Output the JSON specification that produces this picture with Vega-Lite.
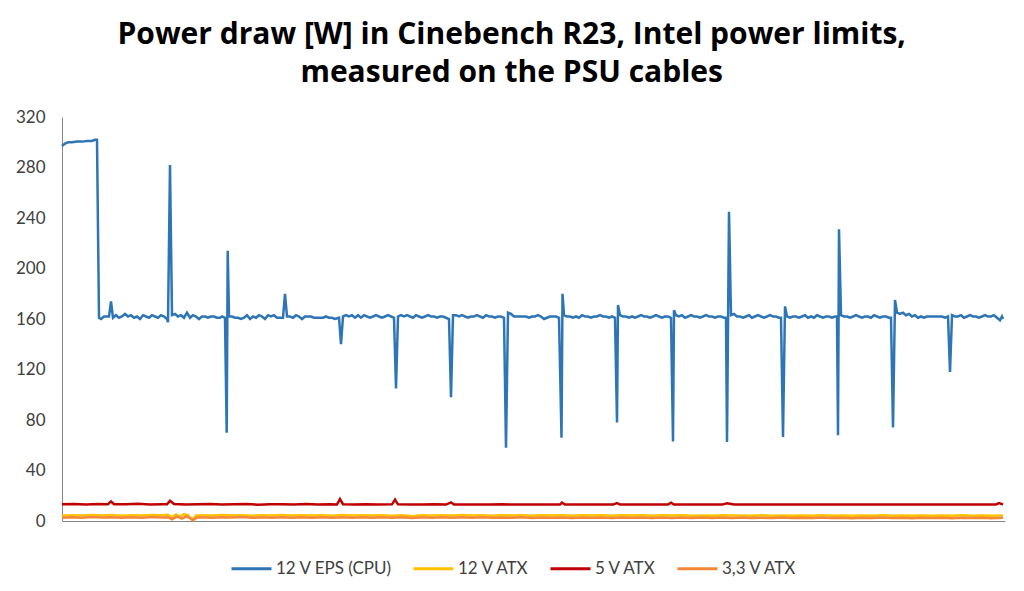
{
  "$schema": "https://vega.github.io/schema/vega-lite/v6.json",
  "width": 943,
  "height": 404,
  "padding": {"left": 15, "top": 20, "right": 19, "bottom": 10},
  "background": "white",
  "title": {
    "text": ["Power draw [W] in Cinebench R23, Intel power limits,", "measured on the PSU cables"],
    "font": "Open Sans",
    "fontSize": 30,
    "fontWeight": "bold",
    "color": "#000000",
    "lineHeight": 38,
    "anchor": "middle",
    "frame": "bounds",
    "offset": 20
  },
  "config": {
    "view": {"stroke": null},
    "axis": {"grid": false, "domainColor": "#868686", "domainWidth": 1, "labelFont": "Lato", "labelFontSize": 17, "labelColor": "#404040", "ticks": false},
    "legend": {"labelFont": "Lato", "labelFontSize": 17, "labelColor": "#404040"}
  },
  "data": {
    "values": [
      {"series": "12 V EPS (CPU)", "t": 0, "W": 297},
      {"series": "12 V EPS (CPU)", "t": 3, "W": 299},
      {"series": "12 V EPS (CPU)", "t": 6, "W": 300},
      {"series": "12 V EPS (CPU)", "t": 10, "W": 300},
      {"series": "12 V EPS (CPU)", "t": 15, "W": 300.5},
      {"series": "12 V EPS (CPU)", "t": 20, "W": 300.5},
      {"series": "12 V EPS (CPU)", "t": 25, "W": 301},
      {"series": "12 V EPS (CPU)", "t": 30, "W": 301},
      {"series": "12 V EPS (CPU)", "t": 33, "W": 302},
      {"series": "12 V EPS (CPU)", "t": 35, "W": 302},
      {"series": "12 V EPS (CPU)", "t": 37, "W": 161},
      {"series": "12 V EPS (CPU)", "t": 39, "W": 160},
      {"series": "12 V EPS (CPU)", "t": 42, "W": 162},
      {"series": "12 V EPS (CPU)", "t": 45, "W": 162},
      {"series": "12 V EPS (CPU)", "t": 47, "W": 162},
      {"series": "12 V EPS (CPU)", "t": 49, "W": 174},
      {"series": "12 V EPS (CPU)", "t": 51, "W": 161},
      {"series": "12 V EPS (CPU)", "t": 54, "W": 163},
      {"series": "12 V EPS (CPU)", "t": 57, "W": 161},
      {"series": "12 V EPS (CPU)", "t": 60, "W": 162},
      {"series": "12 V EPS (CPU)", "t": 63, "W": 164},
      {"series": "12 V EPS (CPU)", "t": 66, "W": 162},
      {"series": "12 V EPS (CPU)", "t": 69, "W": 163},
      {"series": "12 V EPS (CPU)", "t": 72, "W": 161},
      {"series": "12 V EPS (CPU)", "t": 75, "W": 162},
      {"series": "12 V EPS (CPU)", "t": 78, "W": 160},
      {"series": "12 V EPS (CPU)", "t": 81, "W": 163},
      {"series": "12 V EPS (CPU)", "t": 84, "W": 162},
      {"series": "12 V EPS (CPU)", "t": 87, "W": 161},
      {"series": "12 V EPS (CPU)", "t": 90, "W": 163},
      {"series": "12 V EPS (CPU)", "t": 93, "W": 162},
      {"series": "12 V EPS (CPU)", "t": 96, "W": 161},
      {"series": "12 V EPS (CPU)", "t": 99, "W": 163},
      {"series": "12 V EPS (CPU)", "t": 102, "W": 162},
      {"series": "12 V EPS (CPU)", "t": 105, "W": 160},
      {"series": "12 V EPS (CPU)", "t": 106, "W": 157.5},
      {"series": "12 V EPS (CPU)", "t": 108, "W": 282},
      {"series": "12 V EPS (CPU)", "t": 110, "W": 163},
      {"series": "12 V EPS (CPU)", "t": 113, "W": 164},
      {"series": "12 V EPS (CPU)", "t": 116, "W": 162},
      {"series": "12 V EPS (CPU)", "t": 119, "W": 163},
      {"series": "12 V EPS (CPU)", "t": 122, "W": 161},
      {"series": "12 V EPS (CPU)", "t": 125, "W": 165},
      {"series": "12 V EPS (CPU)", "t": 128, "W": 161},
      {"series": "12 V EPS (CPU)", "t": 131, "W": 163},
      {"series": "12 V EPS (CPU)", "t": 134, "W": 162},
      {"series": "12 V EPS (CPU)", "t": 137, "W": 160},
      {"series": "12 V EPS (CPU)", "t": 140, "W": 162},
      {"series": "12 V EPS (CPU)", "t": 143, "W": 162},
      {"series": "12 V EPS (CPU)", "t": 146, "W": 161},
      {"series": "12 V EPS (CPU)", "t": 149, "W": 162},
      {"series": "12 V EPS (CPU)", "t": 152, "W": 162},
      {"series": "12 V EPS (CPU)", "t": 155, "W": 161},
      {"series": "12 V EPS (CPU)", "t": 158, "W": 161},
      {"series": "12 V EPS (CPU)", "t": 160, "W": 162},
      {"series": "12 V EPS (CPU)", "t": 163, "W": 161},
      {"series": "12 V EPS (CPU)", "t": 164.7, "W": 70},
      {"series": "12 V EPS (CPU)", "t": 165.7, "W": 214},
      {"series": "12 V EPS (CPU)", "t": 167, "W": 162},
      {"series": "12 V EPS (CPU)", "t": 170, "W": 162},
      {"series": "12 V EPS (CPU)", "t": 173, "W": 161},
      {"series": "12 V EPS (CPU)", "t": 176, "W": 161},
      {"series": "12 V EPS (CPU)", "t": 179, "W": 160},
      {"series": "12 V EPS (CPU)", "t": 182, "W": 161},
      {"series": "12 V EPS (CPU)", "t": 185, "W": 163},
      {"series": "12 V EPS (CPU)", "t": 188, "W": 160},
      {"series": "12 V EPS (CPU)", "t": 191, "W": 162},
      {"series": "12 V EPS (CPU)", "t": 194, "W": 161},
      {"series": "12 V EPS (CPU)", "t": 197, "W": 163},
      {"series": "12 V EPS (CPU)", "t": 200, "W": 162},
      {"series": "12 V EPS (CPU)", "t": 203, "W": 160},
      {"series": "12 V EPS (CPU)", "t": 206, "W": 163},
      {"series": "12 V EPS (CPU)", "t": 209, "W": 162},
      {"series": "12 V EPS (CPU)", "t": 212, "W": 163},
      {"series": "12 V EPS (CPU)", "t": 215, "W": 161},
      {"series": "12 V EPS (CPU)", "t": 218, "W": 161},
      {"series": "12 V EPS (CPU)", "t": 221, "W": 161},
      {"series": "12 V EPS (CPU)", "t": 223, "W": 180},
      {"series": "12 V EPS (CPU)", "t": 225, "W": 162},
      {"series": "12 V EPS (CPU)", "t": 228, "W": 162},
      {"series": "12 V EPS (CPU)", "t": 231, "W": 161},
      {"series": "12 V EPS (CPU)", "t": 234, "W": 163},
      {"series": "12 V EPS (CPU)", "t": 237, "W": 162},
      {"series": "12 V EPS (CPU)", "t": 240, "W": 160},
      {"series": "12 V EPS (CPU)", "t": 243, "W": 162},
      {"series": "12 V EPS (CPU)", "t": 246, "W": 162},
      {"series": "12 V EPS (CPU)", "t": 249, "W": 162},
      {"series": "12 V EPS (CPU)", "t": 252, "W": 161},
      {"series": "12 V EPS (CPU)", "t": 255, "W": 161},
      {"series": "12 V EPS (CPU)", "t": 258, "W": 161},
      {"series": "12 V EPS (CPU)", "t": 261, "W": 161},
      {"series": "12 V EPS (CPU)", "t": 264, "W": 162},
      {"series": "12 V EPS (CPU)", "t": 267, "W": 161},
      {"series": "12 V EPS (CPU)", "t": 270, "W": 161},
      {"series": "12 V EPS (CPU)", "t": 273, "W": 160},
      {"series": "12 V EPS (CPU)", "t": 277, "W": 161},
      {"series": "12 V EPS (CPU)", "t": 279, "W": 140},
      {"series": "12 V EPS (CPU)", "t": 281, "W": 162},
      {"series": "12 V EPS (CPU)", "t": 284, "W": 163},
      {"series": "12 V EPS (CPU)", "t": 287, "W": 162},
      {"series": "12 V EPS (CPU)", "t": 290, "W": 163},
      {"series": "12 V EPS (CPU)", "t": 293, "W": 161},
      {"series": "12 V EPS (CPU)", "t": 296, "W": 163},
      {"series": "12 V EPS (CPU)", "t": 299, "W": 161},
      {"series": "12 V EPS (CPU)", "t": 302, "W": 163},
      {"series": "12 V EPS (CPU)", "t": 305, "W": 162},
      {"series": "12 V EPS (CPU)", "t": 308, "W": 161},
      {"series": "12 V EPS (CPU)", "t": 311, "W": 162},
      {"series": "12 V EPS (CPU)", "t": 314, "W": 163},
      {"series": "12 V EPS (CPU)", "t": 317, "W": 162},
      {"series": "12 V EPS (CPU)", "t": 320, "W": 161},
      {"series": "12 V EPS (CPU)", "t": 323, "W": 162},
      {"series": "12 V EPS (CPU)", "t": 326, "W": 163},
      {"series": "12 V EPS (CPU)", "t": 329, "W": 162},
      {"series": "12 V EPS (CPU)", "t": 332, "W": 161},
      {"series": "12 V EPS (CPU)", "t": 334, "W": 105},
      {"series": "12 V EPS (CPU)", "t": 336, "W": 162},
      {"series": "12 V EPS (CPU)", "t": 339, "W": 163},
      {"series": "12 V EPS (CPU)", "t": 342, "W": 162},
      {"series": "12 V EPS (CPU)", "t": 345, "W": 163},
      {"series": "12 V EPS (CPU)", "t": 348, "W": 162},
      {"series": "12 V EPS (CPU)", "t": 351, "W": 161},
      {"series": "12 V EPS (CPU)", "t": 354, "W": 163},
      {"series": "12 V EPS (CPU)", "t": 357, "W": 162},
      {"series": "12 V EPS (CPU)", "t": 360, "W": 161},
      {"series": "12 V EPS (CPU)", "t": 363, "W": 162},
      {"series": "12 V EPS (CPU)", "t": 366, "W": 163},
      {"series": "12 V EPS (CPU)", "t": 369, "W": 162},
      {"series": "12 V EPS (CPU)", "t": 372, "W": 162},
      {"series": "12 V EPS (CPU)", "t": 375, "W": 161},
      {"series": "12 V EPS (CPU)", "t": 378, "W": 162},
      {"series": "12 V EPS (CPU)", "t": 381, "W": 162},
      {"series": "12 V EPS (CPU)", "t": 384, "W": 161},
      {"series": "12 V EPS (CPU)", "t": 387, "W": 160},
      {"series": "12 V EPS (CPU)", "t": 389, "W": 98},
      {"series": "12 V EPS (CPU)", "t": 391, "W": 163},
      {"series": "12 V EPS (CPU)", "t": 394, "W": 163},
      {"series": "12 V EPS (CPU)", "t": 397, "W": 162},
      {"series": "12 V EPS (CPU)", "t": 400, "W": 163},
      {"series": "12 V EPS (CPU)", "t": 403, "W": 162},
      {"series": "12 V EPS (CPU)", "t": 406, "W": 161},
      {"series": "12 V EPS (CPU)", "t": 409, "W": 162},
      {"series": "12 V EPS (CPU)", "t": 412, "W": 162},
      {"series": "12 V EPS (CPU)", "t": 415, "W": 163},
      {"series": "12 V EPS (CPU)", "t": 418, "W": 162},
      {"series": "12 V EPS (CPU)", "t": 421, "W": 161},
      {"series": "12 V EPS (CPU)", "t": 424, "W": 163},
      {"series": "12 V EPS (CPU)", "t": 427, "W": 162},
      {"series": "12 V EPS (CPU)", "t": 430, "W": 162},
      {"series": "12 V EPS (CPU)", "t": 433, "W": 161},
      {"series": "12 V EPS (CPU)", "t": 436, "W": 162},
      {"series": "12 V EPS (CPU)", "t": 439, "W": 162},
      {"series": "12 V EPS (CPU)", "t": 442, "W": 161},
      {"series": "12 V EPS (CPU)", "t": 444, "W": 58},
      {"series": "12 V EPS (CPU)", "t": 446, "W": 165},
      {"series": "12 V EPS (CPU)", "t": 449, "W": 164},
      {"series": "12 V EPS (CPU)", "t": 452, "W": 162},
      {"series": "12 V EPS (CPU)", "t": 455, "W": 162},
      {"series": "12 V EPS (CPU)", "t": 458, "W": 162},
      {"series": "12 V EPS (CPU)", "t": 461, "W": 162},
      {"series": "12 V EPS (CPU)", "t": 464, "W": 162},
      {"series": "12 V EPS (CPU)", "t": 467, "W": 161},
      {"series": "12 V EPS (CPU)", "t": 470, "W": 162},
      {"series": "12 V EPS (CPU)", "t": 473, "W": 162},
      {"series": "12 V EPS (CPU)", "t": 476, "W": 163},
      {"series": "12 V EPS (CPU)", "t": 479, "W": 162},
      {"series": "12 V EPS (CPU)", "t": 482, "W": 160},
      {"series": "12 V EPS (CPU)", "t": 485, "W": 161},
      {"series": "12 V EPS (CPU)", "t": 488, "W": 162},
      {"series": "12 V EPS (CPU)", "t": 491, "W": 162},
      {"series": "12 V EPS (CPU)", "t": 494, "W": 162},
      {"series": "12 V EPS (CPU)", "t": 497, "W": 161},
      {"series": "12 V EPS (CPU)", "t": 499.5, "W": 66},
      {"series": "12 V EPS (CPU)", "t": 500.5, "W": 180},
      {"series": "12 V EPS (CPU)", "t": 502, "W": 163},
      {"series": "12 V EPS (CPU)", "t": 505, "W": 162},
      {"series": "12 V EPS (CPU)", "t": 508, "W": 162},
      {"series": "12 V EPS (CPU)", "t": 511, "W": 161},
      {"series": "12 V EPS (CPU)", "t": 514, "W": 162},
      {"series": "12 V EPS (CPU)", "t": 517, "W": 161},
      {"series": "12 V EPS (CPU)", "t": 520, "W": 163},
      {"series": "12 V EPS (CPU)", "t": 523, "W": 162},
      {"series": "12 V EPS (CPU)", "t": 526, "W": 162},
      {"series": "12 V EPS (CPU)", "t": 529, "W": 161},
      {"series": "12 V EPS (CPU)", "t": 532, "W": 162},
      {"series": "12 V EPS (CPU)", "t": 535, "W": 162},
      {"series": "12 V EPS (CPU)", "t": 538, "W": 163},
      {"series": "12 V EPS (CPU)", "t": 541, "W": 162},
      {"series": "12 V EPS (CPU)", "t": 544, "W": 162},
      {"series": "12 V EPS (CPU)", "t": 547, "W": 161},
      {"series": "12 V EPS (CPU)", "t": 550, "W": 162},
      {"series": "12 V EPS (CPU)", "t": 553, "W": 161},
      {"series": "12 V EPS (CPU)", "t": 555, "W": 78},
      {"series": "12 V EPS (CPU)", "t": 556, "W": 171},
      {"series": "12 V EPS (CPU)", "t": 558, "W": 163},
      {"series": "12 V EPS (CPU)", "t": 561, "W": 162},
      {"series": "12 V EPS (CPU)", "t": 564, "W": 162},
      {"series": "12 V EPS (CPU)", "t": 567, "W": 161},
      {"series": "12 V EPS (CPU)", "t": 570, "W": 162},
      {"series": "12 V EPS (CPU)", "t": 573, "W": 161},
      {"series": "12 V EPS (CPU)", "t": 576, "W": 162},
      {"series": "12 V EPS (CPU)", "t": 579, "W": 163},
      {"series": "12 V EPS (CPU)", "t": 582, "W": 162},
      {"series": "12 V EPS (CPU)", "t": 585, "W": 162},
      {"series": "12 V EPS (CPU)", "t": 588, "W": 161},
      {"series": "12 V EPS (CPU)", "t": 591, "W": 162},
      {"series": "12 V EPS (CPU)", "t": 594, "W": 163},
      {"series": "12 V EPS (CPU)", "t": 597, "W": 162},
      {"series": "12 V EPS (CPU)", "t": 600, "W": 161},
      {"series": "12 V EPS (CPU)", "t": 603, "W": 162},
      {"series": "12 V EPS (CPU)", "t": 606, "W": 162},
      {"series": "12 V EPS (CPU)", "t": 609, "W": 161},
      {"series": "12 V EPS (CPU)", "t": 611, "W": 63},
      {"series": "12 V EPS (CPU)", "t": 612, "W": 167},
      {"series": "12 V EPS (CPU)", "t": 614, "W": 163},
      {"series": "12 V EPS (CPU)", "t": 617, "W": 162},
      {"series": "12 V EPS (CPU)", "t": 620, "W": 163},
      {"series": "12 V EPS (CPU)", "t": 623, "W": 161},
      {"series": "12 V EPS (CPU)", "t": 626, "W": 162},
      {"series": "12 V EPS (CPU)", "t": 629, "W": 163},
      {"series": "12 V EPS (CPU)", "t": 632, "W": 162},
      {"series": "12 V EPS (CPU)", "t": 635, "W": 162},
      {"series": "12 V EPS (CPU)", "t": 638, "W": 161},
      {"series": "12 V EPS (CPU)", "t": 641, "W": 162},
      {"series": "12 V EPS (CPU)", "t": 644, "W": 163},
      {"series": "12 V EPS (CPU)", "t": 647, "W": 162},
      {"series": "12 V EPS (CPU)", "t": 650, "W": 162},
      {"series": "12 V EPS (CPU)", "t": 653, "W": 161},
      {"series": "12 V EPS (CPU)", "t": 656, "W": 162},
      {"series": "12 V EPS (CPU)", "t": 659, "W": 162},
      {"series": "12 V EPS (CPU)", "t": 662, "W": 161},
      {"series": "12 V EPS (CPU)", "t": 664, "W": 161},
      {"series": "12 V EPS (CPU)", "t": 665, "W": 62.5},
      {"series": "12 V EPS (CPU)", "t": 667, "W": 245},
      {"series": "12 V EPS (CPU)", "t": 669, "W": 163},
      {"series": "12 V EPS (CPU)", "t": 672, "W": 164},
      {"series": "12 V EPS (CPU)", "t": 675, "W": 162},
      {"series": "12 V EPS (CPU)", "t": 678, "W": 162},
      {"series": "12 V EPS (CPU)", "t": 681, "W": 161},
      {"series": "12 V EPS (CPU)", "t": 684, "W": 162},
      {"series": "12 V EPS (CPU)", "t": 687, "W": 163},
      {"series": "12 V EPS (CPU)", "t": 690, "W": 161},
      {"series": "12 V EPS (CPU)", "t": 693, "W": 162},
      {"series": "12 V EPS (CPU)", "t": 696, "W": 163},
      {"series": "12 V EPS (CPU)", "t": 699, "W": 162},
      {"series": "12 V EPS (CPU)", "t": 702, "W": 161},
      {"series": "12 V EPS (CPU)", "t": 705, "W": 162},
      {"series": "12 V EPS (CPU)", "t": 708, "W": 163},
      {"series": "12 V EPS (CPU)", "t": 711, "W": 162},
      {"series": "12 V EPS (CPU)", "t": 714, "W": 162},
      {"series": "12 V EPS (CPU)", "t": 717, "W": 161},
      {"series": "12 V EPS (CPU)", "t": 719, "W": 161},
      {"series": "12 V EPS (CPU)", "t": 721, "W": 66.5},
      {"series": "12 V EPS (CPU)", "t": 723, "W": 170},
      {"series": "12 V EPS (CPU)", "t": 725, "W": 162},
      {"series": "12 V EPS (CPU)", "t": 728, "W": 161},
      {"series": "12 V EPS (CPU)", "t": 731, "W": 162},
      {"series": "12 V EPS (CPU)", "t": 734, "W": 162},
      {"series": "12 V EPS (CPU)", "t": 737, "W": 161},
      {"series": "12 V EPS (CPU)", "t": 740, "W": 162},
      {"series": "12 V EPS (CPU)", "t": 743, "W": 163},
      {"series": "12 V EPS (CPU)", "t": 746, "W": 161},
      {"series": "12 V EPS (CPU)", "t": 749, "W": 162},
      {"series": "12 V EPS (CPU)", "t": 752, "W": 161},
      {"series": "12 V EPS (CPU)", "t": 755, "W": 163},
      {"series": "12 V EPS (CPU)", "t": 758, "W": 162},
      {"series": "12 V EPS (CPU)", "t": 761, "W": 161},
      {"series": "12 V EPS (CPU)", "t": 764, "W": 162},
      {"series": "12 V EPS (CPU)", "t": 767, "W": 162},
      {"series": "12 V EPS (CPU)", "t": 770, "W": 161},
      {"series": "12 V EPS (CPU)", "t": 773, "W": 162},
      {"series": "12 V EPS (CPU)", "t": 775, "W": 162},
      {"series": "12 V EPS (CPU)", "t": 776, "W": 68},
      {"series": "12 V EPS (CPU)", "t": 777, "W": 231},
      {"series": "12 V EPS (CPU)", "t": 779, "W": 163},
      {"series": "12 V EPS (CPU)", "t": 782, "W": 162},
      {"series": "12 V EPS (CPU)", "t": 785, "W": 162},
      {"series": "12 V EPS (CPU)", "t": 788, "W": 161},
      {"series": "12 V EPS (CPU)", "t": 791, "W": 162},
      {"series": "12 V EPS (CPU)", "t": 794, "W": 163},
      {"series": "12 V EPS (CPU)", "t": 797, "W": 162},
      {"series": "12 V EPS (CPU)", "t": 800, "W": 161},
      {"series": "12 V EPS (CPU)", "t": 803, "W": 162},
      {"series": "12 V EPS (CPU)", "t": 806, "W": 162},
      {"series": "12 V EPS (CPU)", "t": 809, "W": 161},
      {"series": "12 V EPS (CPU)", "t": 812, "W": 163},
      {"series": "12 V EPS (CPU)", "t": 815, "W": 162},
      {"series": "12 V EPS (CPU)", "t": 818, "W": 161},
      {"series": "12 V EPS (CPU)", "t": 821, "W": 162},
      {"series": "12 V EPS (CPU)", "t": 824, "W": 162},
      {"series": "12 V EPS (CPU)", "t": 827, "W": 161},
      {"series": "12 V EPS (CPU)", "t": 829, "W": 161},
      {"series": "12 V EPS (CPU)", "t": 831, "W": 74},
      {"series": "12 V EPS (CPU)", "t": 833, "W": 175},
      {"series": "12 V EPS (CPU)", "t": 835, "W": 165},
      {"series": "12 V EPS (CPU)", "t": 838, "W": 164},
      {"series": "12 V EPS (CPU)", "t": 841, "W": 165},
      {"series": "12 V EPS (CPU)", "t": 844, "W": 163},
      {"series": "12 V EPS (CPU)", "t": 847, "W": 164},
      {"series": "12 V EPS (CPU)", "t": 850, "W": 162},
      {"series": "12 V EPS (CPU)", "t": 853, "W": 163},
      {"series": "12 V EPS (CPU)", "t": 856, "W": 161},
      {"series": "12 V EPS (CPU)", "t": 859, "W": 162},
      {"series": "12 V EPS (CPU)", "t": 862, "W": 161},
      {"series": "12 V EPS (CPU)", "t": 865, "W": 162},
      {"series": "12 V EPS (CPU)", "t": 868, "W": 162},
      {"series": "12 V EPS (CPU)", "t": 871, "W": 162},
      {"series": "12 V EPS (CPU)", "t": 874, "W": 162},
      {"series": "12 V EPS (CPU)", "t": 877, "W": 162},
      {"series": "12 V EPS (CPU)", "t": 880, "W": 162},
      {"series": "12 V EPS (CPU)", "t": 883, "W": 161},
      {"series": "12 V EPS (CPU)", "t": 886, "W": 162},
      {"series": "12 V EPS (CPU)", "t": 888, "W": 118},
      {"series": "12 V EPS (CPU)", "t": 890, "W": 163},
      {"series": "12 V EPS (CPU)", "t": 893, "W": 162},
      {"series": "12 V EPS (CPU)", "t": 896, "W": 162},
      {"series": "12 V EPS (CPU)", "t": 899, "W": 163},
      {"series": "12 V EPS (CPU)", "t": 902, "W": 161},
      {"series": "12 V EPS (CPU)", "t": 905, "W": 162},
      {"series": "12 V EPS (CPU)", "t": 908, "W": 163},
      {"series": "12 V EPS (CPU)", "t": 911, "W": 162},
      {"series": "12 V EPS (CPU)", "t": 914, "W": 162},
      {"series": "12 V EPS (CPU)", "t": 917, "W": 161},
      {"series": "12 V EPS (CPU)", "t": 920, "W": 162},
      {"series": "12 V EPS (CPU)", "t": 923, "W": 163},
      {"series": "12 V EPS (CPU)", "t": 926, "W": 162},
      {"series": "12 V EPS (CPU)", "t": 929, "W": 162},
      {"series": "12 V EPS (CPU)", "t": 932, "W": 163},
      {"series": "12 V EPS (CPU)", "t": 935, "W": 161},
      {"series": "12 V EPS (CPU)", "t": 938, "W": 159},
      {"series": "12 V EPS (CPU)", "t": 940, "W": 162},
      {"series": "12 V EPS (CPU)", "t": 941, "W": 160},

      {"series": "12 V ATX", "t": 0, "W": 4.2},
      {"series": "12 V ATX", "t": 10, "W": 4.6},
      {"series": "12 V ATX", "t": 20, "W": 4.3},
      {"series": "12 V ATX", "t": 30, "W": 4.8},
      {"series": "12 V ATX", "t": 40, "W": 4.4},
      {"series": "12 V ATX", "t": 50, "W": 4.7},
      {"series": "12 V ATX", "t": 60, "W": 4.2},
      {"series": "12 V ATX", "t": 70, "W": 4.6},
      {"series": "12 V ATX", "t": 80, "W": 4.4},
      {"series": "12 V ATX", "t": 90, "W": 4.8},
      {"series": "12 V ATX", "t": 100, "W": 4.5},
      {"series": "12 V ATX", "t": 106, "W": 4.9},
      {"series": "12 V ATX", "t": 110, "W": 3.0},
      {"series": "12 V ATX", "t": 114, "W": 5.2},
      {"series": "12 V ATX", "t": 118, "W": 3.4},
      {"series": "12 V ATX", "t": 122, "W": 5.4},
      {"series": "12 V ATX", "t": 126, "W": 4.6},
      {"series": "12 V ATX", "t": 130, "W": 1.0},
      {"series": "12 V ATX", "t": 134, "W": 4.4},
      {"series": "12 V ATX", "t": 140, "W": 4.6},
      {"series": "12 V ATX", "t": 150, "W": 4.3},
      {"series": "12 V ATX", "t": 160, "W": 4.7},
      {"series": "12 V ATX", "t": 170, "W": 4.4},
      {"series": "12 V ATX", "t": 180, "W": 4.6},
      {"series": "12 V ATX", "t": 190, "W": 4.2},
      {"series": "12 V ATX", "t": 200, "W": 4.6},
      {"series": "12 V ATX", "t": 210, "W": 4.4},
      {"series": "12 V ATX", "t": 220, "W": 4.7},
      {"series": "12 V ATX", "t": 230, "W": 4.3},
      {"series": "12 V ATX", "t": 240, "W": 4.6},
      {"series": "12 V ATX", "t": 250, "W": 4.4},
      {"series": "12 V ATX", "t": 260, "W": 4.5},
      {"series": "12 V ATX", "t": 270, "W": 4.2},
      {"series": "12 V ATX", "t": 280, "W": 4.7},
      {"series": "12 V ATX", "t": 290, "W": 4.3},
      {"series": "12 V ATX", "t": 300, "W": 4.6},
      {"series": "12 V ATX", "t": 310, "W": 4.4},
      {"series": "12 V ATX", "t": 320, "W": 4.6},
      {"series": "12 V ATX", "t": 330, "W": 4.2},
      {"series": "12 V ATX", "t": 340, "W": 4.5},
      {"series": "12 V ATX", "t": 350, "W": 3.8},
      {"series": "12 V ATX", "t": 360, "W": 4.6},
      {"series": "12 V ATX", "t": 370, "W": 4.3},
      {"series": "12 V ATX", "t": 380, "W": 4.6},
      {"series": "12 V ATX", "t": 390, "W": 4.4},
      {"series": "12 V ATX", "t": 400, "W": 4.7},
      {"series": "12 V ATX", "t": 410, "W": 4.3},
      {"series": "12 V ATX", "t": 420, "W": 4.5},
      {"series": "12 V ATX", "t": 430, "W": 4.2},
      {"series": "12 V ATX", "t": 440, "W": 4.6},
      {"series": "12 V ATX", "t": 450, "W": 4.4},
      {"series": "12 V ATX", "t": 460, "W": 4.5},
      {"series": "12 V ATX", "t": 470, "W": 4.2},
      {"series": "12 V ATX", "t": 480, "W": 4.6},
      {"series": "12 V ATX", "t": 490, "W": 4.3},
      {"series": "12 V ATX", "t": 500, "W": 4.5},
      {"series": "12 V ATX", "t": 510, "W": 4.2},
      {"series": "12 V ATX", "t": 520, "W": 4.6},
      {"series": "12 V ATX", "t": 530, "W": 4.3},
      {"series": "12 V ATX", "t": 540, "W": 4.5},
      {"series": "12 V ATX", "t": 550, "W": 4.2},
      {"series": "12 V ATX", "t": 560, "W": 4.6},
      {"series": "12 V ATX", "t": 570, "W": 4.4},
      {"series": "12 V ATX", "t": 580, "W": 4.5},
      {"series": "12 V ATX", "t": 590, "W": 4.2},
      {"series": "12 V ATX", "t": 600, "W": 4.5},
      {"series": "12 V ATX", "t": 610, "W": 4.3},
      {"series": "12 V ATX", "t": 620, "W": 4.6},
      {"series": "12 V ATX", "t": 630, "W": 4.2},
      {"series": "12 V ATX", "t": 640, "W": 4.4},
      {"series": "12 V ATX", "t": 650, "W": 4.1},
      {"series": "12 V ATX", "t": 660, "W": 4.5},
      {"series": "12 V ATX", "t": 670, "W": 4.3},
      {"series": "12 V ATX", "t": 680, "W": 4.4},
      {"series": "12 V ATX", "t": 690, "W": 4.1},
      {"series": "12 V ATX", "t": 700, "W": 4.5},
      {"series": "12 V ATX", "t": 710, "W": 4.2},
      {"series": "12 V ATX", "t": 720, "W": 4.4},
      {"series": "12 V ATX", "t": 730, "W": 4.1},
      {"series": "12 V ATX", "t": 740, "W": 4.4},
      {"series": "12 V ATX", "t": 750, "W": 4.2},
      {"series": "12 V ATX", "t": 760, "W": 4.5},
      {"series": "12 V ATX", "t": 770, "W": 4.2},
      {"series": "12 V ATX", "t": 780, "W": 4.4},
      {"series": "12 V ATX", "t": 790, "W": 4.1},
      {"series": "12 V ATX", "t": 800, "W": 4.4},
      {"series": "12 V ATX", "t": 810, "W": 4.2},
      {"series": "12 V ATX", "t": 820, "W": 4.5},
      {"series": "12 V ATX", "t": 830, "W": 4.1},
      {"series": "12 V ATX", "t": 840, "W": 4.4},
      {"series": "12 V ATX", "t": 850, "W": 4.2},
      {"series": "12 V ATX", "t": 860, "W": 4.4},
      {"series": "12 V ATX", "t": 870, "W": 4.1},
      {"series": "12 V ATX", "t": 880, "W": 4.4},
      {"series": "12 V ATX", "t": 890, "W": 4.2},
      {"series": "12 V ATX", "t": 900, "W": 4.5},
      {"series": "12 V ATX", "t": 910, "W": 4.2},
      {"series": "12 V ATX", "t": 920, "W": 4.4},
      {"series": "12 V ATX", "t": 930, "W": 4.1},
      {"series": "12 V ATX", "t": 941, "W": 4.3},

      {"series": "5 V ATX", "t": 0, "W": 13.2},
      {"series": "5 V ATX", "t": 12, "W": 13.5},
      {"series": "5 V ATX", "t": 24, "W": 13.0},
      {"series": "5 V ATX", "t": 36, "W": 13.4},
      {"series": "5 V ATX", "t": 46, "W": 13.3},
      {"series": "5 V ATX", "t": 49, "W": 15.5},
      {"series": "5 V ATX", "t": 52, "W": 13.3},
      {"series": "5 V ATX", "t": 64, "W": 13.2},
      {"series": "5 V ATX", "t": 76, "W": 13.6},
      {"series": "5 V ATX", "t": 88, "W": 13.1},
      {"series": "5 V ATX", "t": 100, "W": 13.3},
      {"series": "5 V ATX", "t": 105, "W": 13.3},
      {"series": "5 V ATX", "t": 108, "W": 16},
      {"series": "5 V ATX", "t": 112, "W": 13.4},
      {"series": "5 V ATX", "t": 124, "W": 13.0},
      {"series": "5 V ATX", "t": 136, "W": 13.2},
      {"series": "5 V ATX", "t": 148, "W": 13.5},
      {"series": "5 V ATX", "t": 160, "W": 13.1},
      {"series": "5 V ATX", "t": 172, "W": 13.3},
      {"series": "5 V ATX", "t": 184, "W": 13.4},
      {"series": "5 V ATX", "t": 196, "W": 12.9},
      {"series": "5 V ATX", "t": 208, "W": 13.2},
      {"series": "5 V ATX", "t": 220, "W": 13.3},
      {"series": "5 V ATX", "t": 232, "W": 13.1},
      {"series": "5 V ATX", "t": 244, "W": 13.4},
      {"series": "5 V ATX", "t": 256, "W": 13.0},
      {"series": "5 V ATX", "t": 268, "W": 13.2},
      {"series": "5 V ATX", "t": 275, "W": 13.0},
      {"series": "5 V ATX", "t": 278, "W": 17.4},
      {"series": "5 V ATX", "t": 281, "W": 13.3},
      {"series": "5 V ATX", "t": 292, "W": 13.1},
      {"series": "5 V ATX", "t": 304, "W": 13.2},
      {"series": "5 V ATX", "t": 316, "W": 13.0},
      {"series": "5 V ATX", "t": 330, "W": 13.2},
      {"series": "5 V ATX", "t": 333, "W": 17},
      {"series": "5 V ATX", "t": 336, "W": 13.2},
      {"series": "5 V ATX", "t": 348, "W": 13.0},
      {"series": "5 V ATX", "t": 360, "W": 13.1},
      {"series": "5 V ATX", "t": 372, "W": 13.2},
      {"series": "5 V ATX", "t": 384, "W": 13.0},
      {"series": "5 V ATX", "t": 389, "W": 14.8},
      {"series": "5 V ATX", "t": 392, "W": 13.1},
      {"series": "5 V ATX", "t": 404, "W": 13.0},
      {"series": "5 V ATX", "t": 416, "W": 13.1},
      {"series": "5 V ATX", "t": 428, "W": 13.0},
      {"series": "5 V ATX", "t": 440, "W": 13.2},
      {"series": "5 V ATX", "t": 452, "W": 13.0},
      {"series": "5 V ATX", "t": 464, "W": 13.1},
      {"series": "5 V ATX", "t": 476, "W": 13.0},
      {"series": "5 V ATX", "t": 488, "W": 13.1},
      {"series": "5 V ATX", "t": 498, "W": 13.0},
      {"series": "5 V ATX", "t": 500, "W": 14.5},
      {"series": "5 V ATX", "t": 503, "W": 13.0},
      {"series": "5 V ATX", "t": 515, "W": 13.1},
      {"series": "5 V ATX", "t": 527, "W": 13.0},
      {"series": "5 V ATX", "t": 539, "W": 13.1},
      {"series": "5 V ATX", "t": 551, "W": 13.0},
      {"series": "5 V ATX", "t": 555, "W": 14.2},
      {"series": "5 V ATX", "t": 558, "W": 13.0},
      {"series": "5 V ATX", "t": 570, "W": 13.1},
      {"series": "5 V ATX", "t": 582, "W": 13.0},
      {"series": "5 V ATX", "t": 594, "W": 13.1},
      {"series": "5 V ATX", "t": 606, "W": 13.0},
      {"series": "5 V ATX", "t": 609, "W": 14.5},
      {"series": "5 V ATX", "t": 612, "W": 13.0},
      {"series": "5 V ATX", "t": 624, "W": 13.1},
      {"series": "5 V ATX", "t": 636, "W": 13.0},
      {"series": "5 V ATX", "t": 648, "W": 13.1},
      {"series": "5 V ATX", "t": 660, "W": 13.0},
      {"series": "5 V ATX", "t": 665, "W": 14.0},
      {"series": "5 V ATX", "t": 672, "W": 13.1},
      {"series": "5 V ATX", "t": 684, "W": 13.0},
      {"series": "5 V ATX", "t": 696, "W": 13.1},
      {"series": "5 V ATX", "t": 708, "W": 13.0},
      {"series": "5 V ATX", "t": 720, "W": 13.1},
      {"series": "5 V ATX", "t": 732, "W": 13.0},
      {"series": "5 V ATX", "t": 744, "W": 13.1},
      {"series": "5 V ATX", "t": 756, "W": 13.0},
      {"series": "5 V ATX", "t": 768, "W": 13.1},
      {"series": "5 V ATX", "t": 780, "W": 13.0},
      {"series": "5 V ATX", "t": 792, "W": 13.1},
      {"series": "5 V ATX", "t": 804, "W": 13.0},
      {"series": "5 V ATX", "t": 816, "W": 13.1},
      {"series": "5 V ATX", "t": 828, "W": 13.0},
      {"series": "5 V ATX", "t": 840, "W": 13.1},
      {"series": "5 V ATX", "t": 852, "W": 13.0},
      {"series": "5 V ATX", "t": 864, "W": 13.1},
      {"series": "5 V ATX", "t": 876, "W": 13.0},
      {"series": "5 V ATX", "t": 888, "W": 13.1},
      {"series": "5 V ATX", "t": 900, "W": 13.0},
      {"series": "5 V ATX", "t": 912, "W": 13.1},
      {"series": "5 V ATX", "t": 924, "W": 13.0},
      {"series": "5 V ATX", "t": 934, "W": 13.1},
      {"series": "5 V ATX", "t": 937, "W": 14.2},
      {"series": "5 V ATX", "t": 941, "W": 13.1},

      {"series": "3,3 V ATX", "t": 0, "W": 2.6},
      {"series": "3,3 V ATX", "t": 10, "W": 3.0},
      {"series": "3,3 V ATX", "t": 20, "W": 2.5},
      {"series": "3,3 V ATX", "t": 30, "W": 3.1},
      {"series": "3,3 V ATX", "t": 40, "W": 2.7},
      {"series": "3,3 V ATX", "t": 50, "W": 3.0},
      {"series": "3,3 V ATX", "t": 60, "W": 2.5},
      {"series": "3,3 V ATX", "t": 70, "W": 2.9},
      {"series": "3,3 V ATX", "t": 80, "W": 2.6},
      {"series": "3,3 V ATX", "t": 90, "W": 3.1},
      {"series": "3,3 V ATX", "t": 100, "W": 2.7},
      {"series": "3,3 V ATX", "t": 106, "W": 3.0},
      {"series": "3,3 V ATX", "t": 110, "W": 1.4},
      {"series": "3,3 V ATX", "t": 115, "W": 3.4},
      {"series": "3,3 V ATX", "t": 120, "W": 1.8},
      {"series": "3,3 V ATX", "t": 124, "W": 3.6},
      {"series": "3,3 V ATX", "t": 128, "W": 2.4},
      {"series": "3,3 V ATX", "t": 131, "W": 0.6},
      {"series": "3,3 V ATX", "t": 135, "W": 2.8},
      {"series": "3,3 V ATX", "t": 140, "W": 3.0},
      {"series": "3,3 V ATX", "t": 150, "W": 2.6},
      {"series": "3,3 V ATX", "t": 160, "W": 3.0},
      {"series": "3,3 V ATX", "t": 170, "W": 2.7},
      {"series": "3,3 V ATX", "t": 180, "W": 3.1},
      {"series": "3,3 V ATX", "t": 190, "W": 2.5},
      {"series": "3,3 V ATX", "t": 200, "W": 2.9},
      {"series": "3,3 V ATX", "t": 210, "W": 2.6},
      {"series": "3,3 V ATX", "t": 220, "W": 3.0},
      {"series": "3,3 V ATX", "t": 230, "W": 2.6},
      {"series": "3,3 V ATX", "t": 240, "W": 2.9},
      {"series": "3,3 V ATX", "t": 250, "W": 2.5},
      {"series": "3,3 V ATX", "t": 260, "W": 2.9},
      {"series": "3,3 V ATX", "t": 270, "W": 2.6},
      {"series": "3,3 V ATX", "t": 280, "W": 3.0},
      {"series": "3,3 V ATX", "t": 290, "W": 2.5},
      {"series": "3,3 V ATX", "t": 300, "W": 2.9},
      {"series": "3,3 V ATX", "t": 310, "W": 2.6},
      {"series": "3,3 V ATX", "t": 320, "W": 3.0},
      {"series": "3,3 V ATX", "t": 330, "W": 2.5},
      {"series": "3,3 V ATX", "t": 340, "W": 2.9},
      {"series": "3,3 V ATX", "t": 350, "W": 2.4},
      {"series": "3,3 V ATX", "t": 360, "W": 2.9},
      {"series": "3,3 V ATX", "t": 370, "W": 2.6},
      {"series": "3,3 V ATX", "t": 380, "W": 3.0},
      {"series": "3,3 V ATX", "t": 390, "W": 2.5},
      {"series": "3,3 V ATX", "t": 400, "W": 2.9},
      {"series": "3,3 V ATX", "t": 410, "W": 2.6},
      {"series": "3,3 V ATX", "t": 420, "W": 2.9},
      {"series": "3,3 V ATX", "t": 430, "W": 2.5},
      {"series": "3,3 V ATX", "t": 440, "W": 2.8},
      {"series": "3,3 V ATX", "t": 450, "W": 2.5},
      {"series": "3,3 V ATX", "t": 460, "W": 2.9},
      {"series": "3,3 V ATX", "t": 470, "W": 2.4},
      {"series": "3,3 V ATX", "t": 480, "W": 2.8},
      {"series": "3,3 V ATX", "t": 490, "W": 2.5},
      {"series": "3,3 V ATX", "t": 500, "W": 2.8},
      {"series": "3,3 V ATX", "t": 510, "W": 2.4},
      {"series": "3,3 V ATX", "t": 520, "W": 2.8},
      {"series": "3,3 V ATX", "t": 530, "W": 2.5},
      {"series": "3,3 V ATX", "t": 540, "W": 2.8},
      {"series": "3,3 V ATX", "t": 550, "W": 2.4},
      {"series": "3,3 V ATX", "t": 560, "W": 2.7},
      {"series": "3,3 V ATX", "t": 570, "W": 2.5},
      {"series": "3,3 V ATX", "t": 580, "W": 2.8},
      {"series": "3,3 V ATX", "t": 590, "W": 2.3},
      {"series": "3,3 V ATX", "t": 600, "W": 2.7},
      {"series": "3,3 V ATX", "t": 610, "W": 2.4},
      {"series": "3,3 V ATX", "t": 620, "W": 2.8},
      {"series": "3,3 V ATX", "t": 630, "W": 2.4},
      {"series": "3,3 V ATX", "t": 640, "W": 2.7},
      {"series": "3,3 V ATX", "t": 650, "W": 2.3},
      {"series": "3,3 V ATX", "t": 660, "W": 2.7},
      {"series": "3,3 V ATX", "t": 670, "W": 2.4},
      {"series": "3,3 V ATX", "t": 680, "W": 2.7},
      {"series": "3,3 V ATX", "t": 690, "W": 2.3},
      {"series": "3,3 V ATX", "t": 700, "W": 2.6},
      {"series": "3,3 V ATX", "t": 710, "W": 2.3},
      {"series": "3,3 V ATX", "t": 720, "W": 2.7},
      {"series": "3,3 V ATX", "t": 730, "W": 2.3},
      {"series": "3,3 V ATX", "t": 740, "W": 2.6},
      {"series": "3,3 V ATX", "t": 750, "W": 2.3},
      {"series": "3,3 V ATX", "t": 760, "W": 2.7},
      {"series": "3,3 V ATX", "t": 770, "W": 2.4},
      {"series": "3,3 V ATX", "t": 780, "W": 2.6},
      {"series": "3,3 V ATX", "t": 790, "W": 2.2},
      {"series": "3,3 V ATX", "t": 800, "W": 2.6},
      {"series": "3,3 V ATX", "t": 810, "W": 2.3},
      {"series": "3,3 V ATX", "t": 820, "W": 2.7},
      {"series": "3,3 V ATX", "t": 830, "W": 2.3},
      {"series": "3,3 V ATX", "t": 840, "W": 2.6},
      {"series": "3,3 V ATX", "t": 850, "W": 2.2},
      {"series": "3,3 V ATX", "t": 860, "W": 2.6},
      {"series": "3,3 V ATX", "t": 870, "W": 2.3},
      {"series": "3,3 V ATX", "t": 880, "W": 2.6},
      {"series": "3,3 V ATX", "t": 890, "W": 2.2},
      {"series": "3,3 V ATX", "t": 900, "W": 2.6},
      {"series": "3,3 V ATX", "t": 910, "W": 2.3},
      {"series": "3,3 V ATX", "t": 920, "W": 2.6},
      {"series": "3,3 V ATX", "t": 930, "W": 2.2},
      {"series": "3,3 V ATX", "t": 941, "W": 2.5}
    ]
  },
  "mark": {"type": "line", "strokeWidth": 2.5, "interpolate": "linear"},
  "encoding": {
    "x": {
      "field": "t",
      "type": "quantitative",
      "scale": {"domain": [0, 943], "nice": false},
      "axis": {"title": null, "labels": false, "ticks": false, "grid": false}
    },
    "y": {
      "field": "W",
      "type": "quantitative",
      "scale": {"domain": [0, 320], "nice": false},
      "axis": {"title": null, "values": [0, 40, 80, 120, 160, 200, 240, 280, 320], "labelPadding": 17}
    },
    "color": {
      "field": "series",
      "type": "nominal",
      "scale": {
        "domain": ["12 V EPS (CPU)", "12 V ATX", "5 V ATX", "3,3 V ATX"],
        "range": ["#2E75B6", "#FFC000", "#C00000", "#F4883A"]
      },
      "legend": {
        "title": null,
        "orient": "none",
        "legendX": 168,
        "legendY": 430,
        "direction": "horizontal",
        "symbolType": "stroke",
        "symbolSize": 1600,
        "symbolStrokeWidth": 3,
        "labelOffset": 3,
        "columnPadding": 14
      }
    }
  }
}
